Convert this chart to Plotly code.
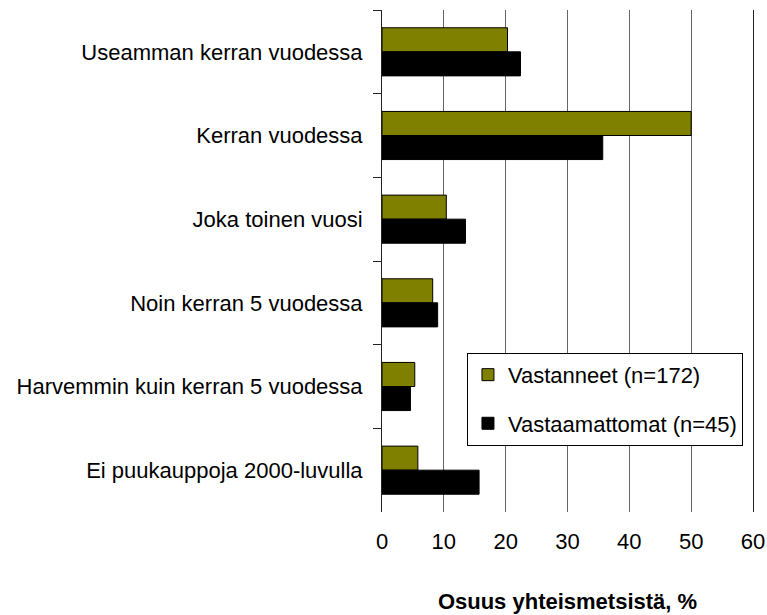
import plotly.graph_objects as go

categories = [
    "Useamman kerran vuodessa",
    "Kerran vuodessa",
    "Joka toinen vuosi",
    "Noin kerran 5 vuodessa",
    "Harvemmin kuin kerran 5 vuodessa",
    "Ei puukauppoja 2000-luvulla",
]
vastanneet = [20.3, 50.0, 10.4, 8.2, 5.3, 5.8]
vastaamattomat = [22.4, 35.7, 13.5, 9.0, 4.6, 15.7]
series_names = ["Vastanneet (n=172)", "Vastaamattomat (n=45)"]
x_ticks = [0, 10, 20, 30, 40, 50, 60]

FONT = "Liberation Sans, Arial, sans-serif"

fig = go.Figure()
fig.add_trace(go.Bar(
    y=categories, x=vastanneet, orientation="h", name=series_names[0],
    marker=dict(color="#808000", line=dict(color="#000000", width=1)),
    legendgroup="a",
))
fig.add_trace(go.Bar(
    y=categories, x=vastaamattomat, orientation="h", name=series_names[1],
    marker=dict(color="#000000", line=dict(color="#000000", width=1)),
    legendgroup="b",
))

fig.update_layout(
    width=767, height=615,
    margin=dict(l=382, r=14, t=10, b=103, autoexpand=False),
    paper_bgcolor="white", plot_bgcolor="white",
    font=dict(family=FONT, size=22, color="#000000"),
    barmode="group", bargap=0.425, bargroupgap=0,
    showlegend=True,
    legend=dict(
        x=0.229, y=0.317, xanchor="left", yanchor="top",
        bgcolor="white", bordercolor="#000000", borderwidth=1,
        font=dict(size=22), traceorder="grouped", tracegroupgap=17,
    ),
    xaxis=dict(
        range=[0, 60], tickvals=x_ticks, ticktext=[str(v) for v in x_ticks],
        showgrid=True, gridcolor="#666666", gridwidth=1,
        zeroline=False, showline=False, ticks="",
        ticklabelstandoff=14, automargin=False,
        title=dict(text="<b>Osuus yhteismetsistä, %</b>", font=dict(size=22), standoff=40),
    ),
    yaxis=dict(
        autorange="reversed", showgrid=False, zeroline=False,
        showline=True, linecolor="#222222", linewidth=1, mirror=True,
        ticks="outside", tickson="boundaries", ticklen=8, tickcolor="#222222",
        ticklabelstandoff=14, automargin=False,
    ),
)

fig.write_html("out.html", config={"displayModeBar": False},
               post_script="document.body.style.margin='0';")
